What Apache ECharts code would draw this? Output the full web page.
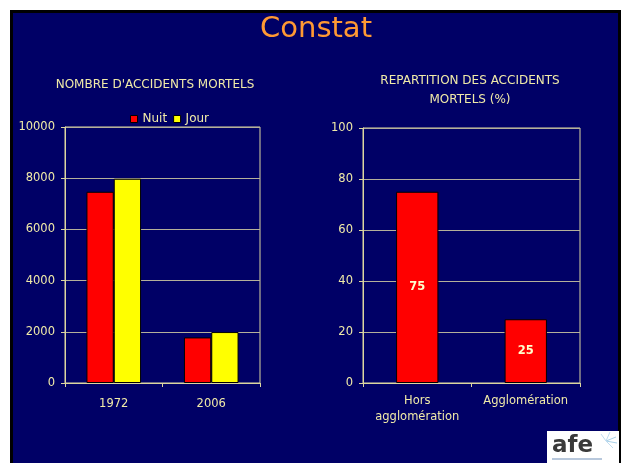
<!DOCTYPE html>
<html>
<head>
<meta charset="utf-8">
<script src="https://cdn.jsdelivr.net/npm/echarts@6/dist/echarts.min.js"></script>
<style>
    body { margin: 0; background: #ffffff; }
    #slide { position: absolute; left: 10px; top: 10px; width: 605px; height: 460px; border: 3px solid #000; background: #000066; }
    #chart { position: absolute; left: 0; top: 0; width: 623px; height: 463px; }
</style>
</head>
<body>
<div id="slide"></div>
<div id="chart"></div>
<script>
const annees = ['1972', '2006'];
const nuit = [7470, 1780];
const jour = [7980, 1990];
const zones = ['Hors\nagglomération', 'Agglomération'];
const repartition = [75, 25];

const texte = '#f0eaa8';
const axe = '#dcd6a0';
const grille = '#b4b09a';
const police = 'DejaVu Sans';

let myChart = echarts.init(document.getElementById('chart'));

function axeX(index, data, marge) {
    return {
        type: 'category',
        gridIndex: index,
        data: data,
        axisLine: { lineStyle: { color: axe, width: 1 } },
        axisTick: { show: true, length: 4, lineStyle: { color: axe } },
        axisLabel: { interval: 0, color: texte, fontSize: 11.5, fontFamily: police, margin: marge, lineHeight: 16 }
    };
}

function axeY(index, max, interval) {
    return {
        type: 'value',
        gridIndex: index,
        min: 0,
        max: max,
        interval: interval,
        axisLine: { show: true, lineStyle: { color: axe, width: 1 } },
        axisTick: { show: true, length: 4, lineStyle: { color: axe } },
        axisLabel: { color: texte, fontSize: 11.5, fontFamily: police, margin: 10, formatter: v => String(v) },
        splitLine: { lineStyle: { color: grille, width: 1 } }
    };
}

myChart.setOption({
    animation: false,
    graphic: [
        {
            type: 'text', x: 316, y: 29,
            style: { text: 'Constat', fill: '#ff9933', fontSize: 29, fontFamily: police, align: 'center', verticalAlign: 'middle' }
        },
        {
            type: 'text', x: 155, y: 85,
            style: { text: "NOMBRE D'ACCIDENTS MORTELS", fill: texte, fontSize: 12, fontFamily: police, align: 'center', verticalAlign: 'middle' }
        },
        {
            type: 'text', x: 470, y: 90,
            style: { text: 'REPARTITION DES ACCIDENTS\nMORTELS (%)', fill: texte, fontSize: 12, fontFamily: police, lineHeight: 19, align: 'center', verticalAlign: 'middle' }
        },
        // logo afe
        {
            type: 'rect', shape: { x: 547, y: 431, width: 72, height: 34 },
            style: { fill: '#ffffff' }
        },
        {
            type: 'text', x: 552, y: 446,
            style: { text: 'afe', fill: '#3a3a3a', fontSize: 23, fontWeight: 'bold', fontFamily: police, verticalAlign: 'middle' }
        },
        {
            type: 'group',
            children: [
                { type: 'line', shape: { x1: 606, y1: 441, x2: 616, y2: 437 }, style: { stroke: '#a8d0e8', lineWidth: 1 } },
                { type: 'line', shape: { x1: 606, y1: 441, x2: 617, y2: 443 }, style: { stroke: '#a8d0e8', lineWidth: 1 } },
                { type: 'line', shape: { x1: 606, y1: 441, x2: 610, y2: 432 }, style: { stroke: '#c0dcf0', lineWidth: 1 } },
                { type: 'line', shape: { x1: 606, y1: 441, x2: 613, y2: 448 }, style: { stroke: '#c0dcf0', lineWidth: 1 } },
                { type: 'line', shape: { x1: 606, y1: 441, x2: 601, y2: 434 }, style: { stroke: '#c0dcf0', lineWidth: 1 } }
            ]
        },
        {
            type: 'rect', shape: { x: 552, y: 458, width: 50, height: 2 },
            style: { fill: '#b8c8dc' }
        }
    ],
    legend: {
        data: ['Nuit', 'Jour'],
        left: 125,
        top: 108,
        itemWidth: 7,
        itemHeight: 7,
        itemGap: 6,
        icon: 'rect',
        itemStyle: { borderColor: '#000', borderWidth: 1 },
        textStyle: { color: texte, fontSize: 12, fontFamily: police }
    },
    grid: [
        { left: 65, top: 127, width: 195, height: 256, show: true, borderColor: axe, borderWidth: 1 },
        { left: 363, top: 128, width: 217, height: 255, show: true, borderColor: axe, borderWidth: 1 }
    ],
    xAxis: [axeX(0, annees, 13), axeX(1, zones, 10)],
    yAxis: [axeY(0, 10000, 2000), axeY(1, 100, 20)],
    series: [
        {
            name: 'Nuit',
            type: 'bar',
            xAxisIndex: 0,
            yAxisIndex: 0,
            barWidth: '28%',
            barGap: '0%',
            itemStyle: { color: '#ff0000', borderColor: '#000', borderWidth: 1 },
            data: nuit
        },
        {
            name: 'Jour',
            type: 'bar',
            xAxisIndex: 0,
            yAxisIndex: 0,
            barWidth: '28%',
            barGap: '0%',
            itemStyle: { color: '#ffff00', borderColor: '#000', borderWidth: 1 },
            data: jour
        },
        {
            name: 'Répartition',
            type: 'bar',
            xAxisIndex: 1,
            yAxisIndex: 1,
            barWidth: '39%',
            itemStyle: { color: '#ff0000', borderColor: '#000', borderWidth: 1 },
            label: {
                show: true,
                position: 'inside',
                color: '#ffffcc',
                fontSize: 11.5,
                fontWeight: 'bold',
                fontFamily: police
            },
            data: repartition
        }
    ]
});
</script>
</body>
</html>
